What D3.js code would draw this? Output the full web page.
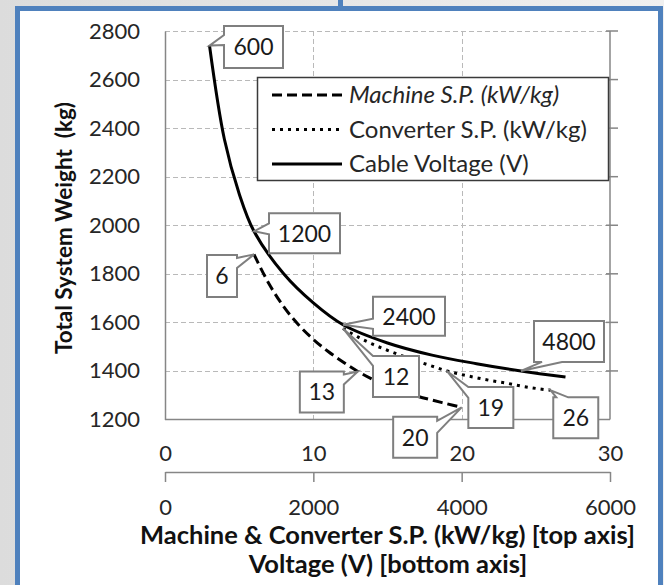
<!DOCTYPE html>
<html>
<head>
<meta charset="utf-8">
<script src="https://cdn.jsdelivr.net/npm/d3@7"></script>
<style>
  body { margin: 0; background: #fff; }
  svg { display: block; }
</style>
</head>
<body>
<div id="chart"></div>
<script>
  // ---- data ----
  const weightTicks = [1200, 1400, 1600, 1800, 2000, 2200, 2400, 2600, 2800];
  const spTicks = [0, 10, 20, 30];
  const voltageTicks = [0, 2000, 4000, 6000];

  const machineSP = [6, 7, 8, 9, 10, 11, 12, 13, 14, 15, 16, 17, 18, 19, 20];
  const machineWeight = [1880, 1760, 1665, 1590, 1530, 1480, 1437, 1398, 1365, 1338, 1315, 1296, 1280, 1265, 1250];

  const converterSP = [12, 13, 14, 15, 16, 17, 18, 19, 20, 21, 22, 23, 24, 25, 26];
  const converterWeight = [1575, 1540, 1510, 1485, 1462, 1440, 1420, 1400, 1385, 1372, 1360, 1350, 1338, 1328, 1320];

  const cableVoltage = [600, 800, 1000, 1200, 1600, 2000, 2400, 3000, 3600, 4200, 4800, 5400];
  const cableWeight = [2740, 2355, 2130, 1975, 1800, 1680, 1590, 1515, 1465, 1430, 1400, 1375];

  const machineLabeled = [6, 13, 20];
  const converterLabeled = [12, 19, 26];
  const cableLabeled = [600, 1200, 2400, 4800];

  const legendNames = ["Machine S.P. (kW/kg)", "Converter S.P. (kW/kg)", "Cable Voltage (V)"];

  // ---- layout ----
  const WIDTH = 664, HEIGHT = 585;
  const FONT = "Lato, 'Open Sans', sans-serif";
  const TEXT = "#262626";
  const AXIS = "#868686";
  const GRID = "#b9b9b9";

  // callout box placement relative to the point it marks
  const calloutLayout = {
    "600":  { dx: 14.5, dy: -19.6, w: 59, h: 42, edge: "left", a: 9, b: 19 },
    "1200": { dx: 15, dy: -18, w: 71, h: 40, edge: "left", a: 10, b: 21 },
    "2400": { dx: 30, dy: -28, w: 72, h: 39, edge: "left", a: 22, b: 32 },
    "4800": { dx: 13, dy: -50, w: 70, h: 41, edge: "bottom", a: 8, b: 28 },
    "6":    { dx: -47, dy: 0.6, w: 30, h: 42, edge: "right", a: 3, b: 13 },
    "13":   { dx: -58, dy: 0, w: 44, h: 41, edge: "right", a: 3, b: 13 },
    "20":   { dx: -68.5, dy: 9.5, w: 44, h: 41, edge: "right", a: 4, b: 16 },
    "12":   { dx: 30, dy: 27.5, w: 46, h: 41, edge: "left", a: 0, b: 10 },
    "19":   { dx: 21.5, dy: 16, w: 45, h: 41, edge: "left", a: 0, b: 11 },
    "26":   { dx: 2.6, dy: 7, w: 45, h: 41, edge: "top", a: 3, b: 15 }
  };

  const svg = d3.select("#chart").append("svg")
    .attr("width", WIDTH)
    .attr("height", HEIGHT)
    .style("font-family", FONT);

  // page background + blue frame
  const grad = svg.append("defs").append("linearGradient")
    .attr("id", "bg").attr("x1", 0).attr("x2", 1).attr("y1", 0).attr("y2", 0);
  grad.append("stop").attr("offset", 0).attr("stop-color", "#dcdcdc");
  grad.append("stop").attr("offset", 1).attr("stop-color", "#f0f0f0");
  svg.append("rect").attr("width", WIDTH).attr("height", HEIGHT).attr("fill", "url(#bg)");
  svg.append("rect").attr("x", 338).attr("y", 0).attr("width", 5).attr("height", 10).attr("fill", "#4f81bd");
  svg.append("rect")
    .attr("x", 17.5).attr("y", 8.5).attr("width", 643).attr("height", 600)
    .attr("fill", "#fff").attr("stroke", "#4f81bd").attr("stroke-width", 5);

  // scales
  const x = d3.scaleLinear().domain([0, 30]).range([165, 610]);
  const xV = d3.scaleLinear().domain([0, 6000]).range([165, 610]);
  const y = d3.scaleLinear().domain([1200, 2800]).range([419.5, 31]);
  const fmt = d3.format("d");

  // gridlines
  const grid = svg.append("g").attr("stroke", GRID).attr("stroke-width", 1).attr("stroke-dasharray", "5,3");
  grid.selectAll(".h").data(weightTicks.filter(d => d > 1200)).enter().append("line")
    .attr("x1", x(0)).attr("x2", x(30))
    .attr("y1", d => Math.round(y(d)) + 0.5).attr("y2", d => Math.round(y(d)) + 0.5);
  grid.selectAll(".v").data(spTicks.filter(d => d > 0 && d < 30)).enter().append("line")
    .attr("x1", d => Math.round(x(d)) + 0.5).attr("x2", d => Math.round(x(d)) + 0.5)
    .attr("y1", y(2800)).attr("y2", y(1200));

  // y axis (left), bottom axis line and right axis with crossing ticks
  const yAxis = svg.append("g").attr("transform", `translate(${x(0)},0)`)
    .call(d3.axisLeft(y).tickValues(weightTicks).tickFormat(fmt).tickSize(0).tickPadding(25));
  yAxis.select(".domain").attr("stroke", AXIS).attr("stroke-width", 1.5);
  yAxis.selectAll("text").attr("font-size", 22).attr("fill", TEXT).style("font-family", FONT);

  svg.append("line").attr("x1", x(0)).attr("x2", x(30)).attr("y1", y(1200)).attr("y2", y(1200))
    .attr("stroke", AXIS).attr("stroke-width", 1.5);
  svg.append("line").attr("x1", x(30)).attr("x2", x(30)).attr("y1", y(2800)).attr("y2", y(1200))
    .attr("stroke", AXIS).attr("stroke-width", 1.5);
  svg.append("g").selectAll("line").data(weightTicks.filter(d => d > 1200)).enter().append("line")
    .attr("x1", x(30) - 4).attr("x2", x(30) + 8)
    .attr("y1", d => y(d)).attr("y2", d => y(d))
    .attr("stroke", AXIS).attr("stroke-width", 1.5);

  // specific power axis (labels only, under the plot)
  const spAxis = svg.append("g").attr("transform", `translate(0,${y(1200)})`)
    .call(d3.axisBottom(x).tickValues(spTicks).tickFormat(fmt).tickSize(0).tickPadding(26));
  spAxis.select(".domain").remove();
  spAxis.selectAll("text").attr("font-size", 22).attr("fill", TEXT).style("font-family", FONT);

  // voltage axis
  const vAxis = svg.append("g").attr("transform", "translate(0,472)")
    .call(d3.axisBottom(xV).tickValues(voltageTicks).tickFormat(fmt).tickSizeInner(10).tickSizeOuter(0).tickPadding(17));
  vAxis.select(".domain").attr("stroke", AXIS).attr("stroke-width", 1.5);
  vAxis.selectAll(".tick line").attr("stroke", AXIS).attr("stroke-width", 1.5);
  vAxis.selectAll("text").attr("font-size", 22).attr("fill", TEXT).style("font-family", FONT);

  // axis titles
  svg.append("text")
    .attr("transform", "translate(72,228) rotate(-90)")
    .attr("text-anchor", "middle")
    .attr("font-weight", "bold").attr("font-size", 22.5).attr("fill", "#111")
    .attr("xml:space", "preserve")
    .text("Total System Weight  (kg)");
  svg.append("text")
    .attr("x", 387.5).attr("y", 544)
    .attr("text-anchor", "middle")
    .attr("font-weight", "bold").attr("font-size", 25.5).attr("fill", "#111")
    .text("Machine & Converter S.P. (kW/kg) [top axis]");
  svg.append("text")
    .attr("x", 388).attr("y", 573)
    .attr("text-anchor", "middle")
    .attr("font-weight", "bold").attr("font-size", 25.5).attr("fill", "#111")
    .text("Voltage (V) [bottom axis]");

  // series
  const machine = machineSP.map((d, i) => ({ px: x(d), py: y(machineWeight[i]), key: d }));
  const converter = converterSP.map((d, i) => ({ px: x(d), py: y(converterWeight[i]), key: d }));
  const cable = cableVoltage.map((d, i) => ({ px: xV(d), py: y(cableWeight[i]), key: d }));

  const line = d3.line().x(d => d.px).y(d => d.py).curve(d3.curveCatmullRom.alpha(0.5));

  const seriesStyle = [
    { data: machine, dash: "10,5", width: 3, cap: "butt" },
    { data: converter, dash: "3,5", width: 3, cap: "butt" },
    { data: cable, dash: null, width: 3, cap: "butt" }
  ];

  svg.append("g").selectAll("path").data(seriesStyle).enter().append("path")
    .attr("d", d => line(d.data))
    .attr("fill", "none")
    .attr("stroke", "#000")
    .attr("stroke-width", d => d.width)
    .attr("stroke-linecap", d => d.cap)
    .attr("stroke-dasharray", d => d.dash);

  // legend
  const legend = svg.append("g");
  legend.append("rect").attr("x", 257.5).attr("y", 77.5).attr("width", 351).attr("height", 103)
    .attr("fill", "#fff").attr("stroke", "#3a3a3a").attr("stroke-width", 1.5);
  const legendRows = [95, 129.5, 164];
  const items = legend.selectAll(".item").data(seriesStyle).enter().append("g")
    .attr("transform", (d, i) => `translate(0,${legendRows[i]})`);
  items.append("line").attr("x1", 272).attr("x2", 342).attr("y1", 0).attr("y2", 0)
    .attr("stroke", "#000")
    .attr("stroke-width", d => d.width)
    .attr("stroke-linecap", d => d.cap)
    .attr("stroke-dasharray", d => d.dash);
  items.append("text").attr("x", 349).attr("y", 0).attr("dy", "0.35em")
    .attr("font-size", 24).attr("fill", TEXT)
    .attr("font-style", (d, i) => i === 0 ? "italic" : "normal")
    .text((d, i) => legendNames[i]);

  // callouts
  function calloutPath(x0, y0, w, h, edge, a, b, tx, ty) {
    const x1 = x0 + w, y1 = y0 + h;
    const p = [[x0, y0]];
    if (edge === "top") p.push([x0 + a, y0], [tx, ty], [x0 + b, y0]);
    p.push([x1, y0]);
    if (edge === "right") p.push([x1, y0 + a], [tx, ty], [x1, y0 + b]);
    p.push([x1, y1]);
    if (edge === "bottom") p.push([x0 + b, y1], [tx, ty], [x0 + a, y1]);
    p.push([x0, y1]);
    if (edge === "left") p.push([x0, y0 + b], [tx, ty], [x0, y0 + a]);
    return "M" + p.join("L") + "Z";
  }

  const calloutData = []
    .concat(machine.filter(d => machineLabeled.includes(d.key)))
    .concat(converter.filter(d => converterLabeled.includes(d.key)))
    .concat(cable.filter(d => cableLabeled.includes(d.key)))
    .map(d => Object.assign({}, d, calloutLayout[String(d.key)]));

  const callouts = svg.append("g").selectAll("g").data(calloutData).enter().append("g");
  callouts.append("path")
    .attr("d", d => calloutPath(d.px + d.dx, d.py + d.dy, d.w, d.h, d.edge, d.a, d.b, d.px, d.py))
    .attr("fill", "#fff")
    .attr("stroke", "#7f7f7f")
    .attr("stroke-width", 2)
    .attr("stroke-linejoin", "miter");
  callouts.append("text")
    .attr("x", d => d.px + d.dx + d.w / 2)
    .attr("y", d => d.py + d.dy + d.h / 2)
    .attr("dy", "0.36em")
    .attr("text-anchor", "middle")
    .attr("font-size", 23)
    .attr("fill", "#1a1a1a")
    .text(d => d.key);
</script>
</body>
</html>
